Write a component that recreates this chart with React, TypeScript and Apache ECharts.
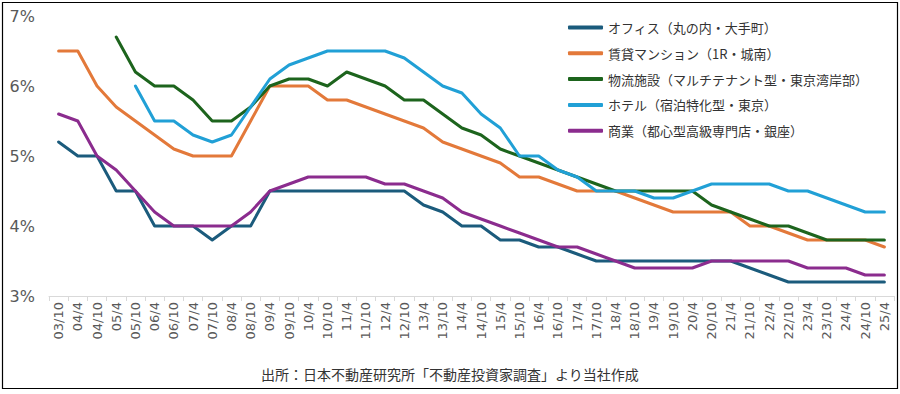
import React, { useEffect, useRef } from "react";
import * as echarts from "echarts";

const categories = [
  "03/10", "04/4", "04/10", "05/4", "05/10", "06/4", "06/10", "07/4", "07/10", "08/4", "08/10",
  "09/4", "09/10", "10/4", "10/10", "11/4", "11/10", "12/4", "12/10", "13/4", "13/10",
  "14/4", "14/10", "15/4", "15/10", "16/4", "16/10", "17/4", "17/10", "18/4", "18/10",
  "19/4", "19/10", "20/4", "20/10", "21/4", "21/10", "22/4", "22/10", "23/4", "23/10",
  "24/4", "24/10", "25/4",
];

const office = [
  5.2, 5.0, 5.0, 4.5, 4.5, 4.0, 4.0, 4.0, 3.8, 4.0, 4.0,
  4.5, 4.5, 4.5, 4.5, 4.5, 4.5, 4.5, 4.5, 4.3, 4.2,
  4.0, 4.0, 3.8, 3.8, 3.7, 3.7, 3.6, 3.5, 3.5, 3.5,
  3.5, 3.5, 3.5, 3.5, 3.5, 3.4, 3.3, 3.2, 3.2, 3.2,
  3.2, 3.2, 3.2,
];

const rental = [
  6.5, 6.5, 6.0, 5.7, 5.5, 5.3, 5.1, 5.0, 5.0, 5.0, 5.5,
  6.0, 6.0, 6.0, 5.8, 5.8, 5.7, 5.6, 5.5, 5.4, 5.2,
  5.1, 5.0, 4.9, 4.7, 4.7, 4.6, 4.5, 4.5, 4.5, 4.4,
  4.3, 4.2, 4.2, 4.2, 4.2, 4.0, 4.0, 3.9, 3.8, 3.8,
  3.8, 3.8, 3.7,
];

const logistics = [
  null, null, null, 6.7, 6.2, 6.0, 6.0, 5.8, 5.5, 5.5, 5.7,
  6.0, 6.1, 6.1, 6.0, 6.2, 6.1, 6.0, 5.8, 5.8, 5.6,
  5.4, 5.3, 5.1, 5.0, 4.9, 4.8, 4.7, 4.6, 4.5, 4.5,
  4.5, 4.5, 4.5, 4.3, 4.2, 4.1, 4.0, 4.0, 3.9, 3.8,
  3.8, 3.8, 3.8,
];

const hotel = [
  null, null, null, null, 6.0, 5.5, 5.5, 5.3, 5.2, 5.3, 5.7,
  6.1, 6.3, 6.4, 6.5, 6.5, 6.5, 6.5, 6.4, 6.2, 6.0,
  5.9, 5.6, 5.4, 5.0, 5.0, 4.8, 4.7, 4.5, 4.5, 4.5,
  4.4, 4.4, 4.5, 4.6, 4.6, 4.6, 4.6, 4.5, 4.5, 4.4,
  4.3, 4.2, 4.2,
];

const retail = [
  5.6, 5.5, 5.0, 4.8, 4.5, 4.2, 4.0, 4.0, 4.0, 4.0, 4.2,
  4.5, 4.6, 4.7, 4.7, 4.7, 4.7, 4.6, 4.6, 4.5, 4.4,
  4.2, 4.1, 4.0, 3.9, 3.8, 3.7, 3.7, 3.6, 3.5, 3.4,
  3.4, 3.4, 3.4, 3.5, 3.5, 3.5, 3.5, 3.5, 3.4, 3.4,
  3.4, 3.3, 3.3,
];

const seriesNames = [
  "オフィス（丸の内・大手町）",
  "賃貸マンション（1R・城南）",
  "物流施設（マルチテナント型・東京湾岸部）",
  "ホテル（宿泊特化型・東京）",
  "商業（都心型高級専門店・銀座）",
];
const colors = ["#1B5B7C", "#E3793A", "#1D641D", "#21A0D6", "#8B2C8E"];
const sourceText = "出所：日本不動産研究所「不動産投資家調査」より当社作成";

export default function App() {
  const ref = useRef<HTMLDivElement>(null);
  useEffect(() => {
    document.body.style.margin = "0";
    if (!ref.current) return;
    const chart = echarts.init(ref.current, null, { renderer: "svg" });
    const font = "'Noto Sans CJK JP', 'Noto Sans', sans-serif";
    const dataSets = [office, rental, logistics, hotel, retail];
    chart.setOption({
      animation: false,
      textStyle: { fontFamily: font },
      grid: { left: 49, right: 6, top: 16, bottom: 98, containLabel: false },
      legend: {
        orient: "vertical",
        left: 568,
        top: 19,
        icon: "roundRect",
        itemWidth: 35,
        itemHeight: 4,
        itemGap: 8.8,
        padding: 0,
        textStyle: { fontSize: 13, color: "#333", fontFamily: font, lineHeight: 17 },
        data: seriesNames,
      },
      xAxis: {
        type: "category",
        data: categories,
        boundaryGap: true,
        axisLine: { lineStyle: { color: "#D9D9D9", width: 1 } },
        axisTick: { show: true, length: 5, lineStyle: { color: "#D9D9D9" } },
        axisLabel: {
          interval: 0,
          rotate: 90,
          fontSize: 13,
          color: "#595959",
          margin: 6,
          fontFamily: "'DejaVu Sans', sans-serif",
        },
      },
      yAxis: {
        type: "value",
        min: 3,
        max: 7,
        interval: 1,
        axisLine: { show: false },
        axisTick: { show: false },
        splitLine: { show: false },
        axisLabel: {
          formatter: "{value}%",
          fontSize: 16,
          color: "#595959",
          margin: 14,
          fontFamily: "'DejaVu Sans', sans-serif",
        },
      },
      series: dataSets.map((d, i) => ({
        name: seriesNames[i],
        type: "line",
        data: d,
        symbol: "none",
        connectNulls: false,
        lineStyle: { width: 3, color: colors[i], cap: "round", join: "round" },
        itemStyle: { color: colors[i] },
      })),
      graphic: [
        {
          type: "rect",
          shape: { x: 2.5, y: 2.5, width: 895, height: 386 },
          style: { fill: "none", stroke: "#000", lineWidth: 1.2 },
          silent: true,
        },
        {
          type: "text",
          left: "center",
          top: 367,
          style: {
            text: sourceText,
            fontSize: 14,
            fill: "#333",
            fontFamily: font,
          },
        },
      ],
    });
    return () => chart.dispose();
  }, []);
  return <div ref={ref} style={{ width: 900, height: 394 }} />;
}
